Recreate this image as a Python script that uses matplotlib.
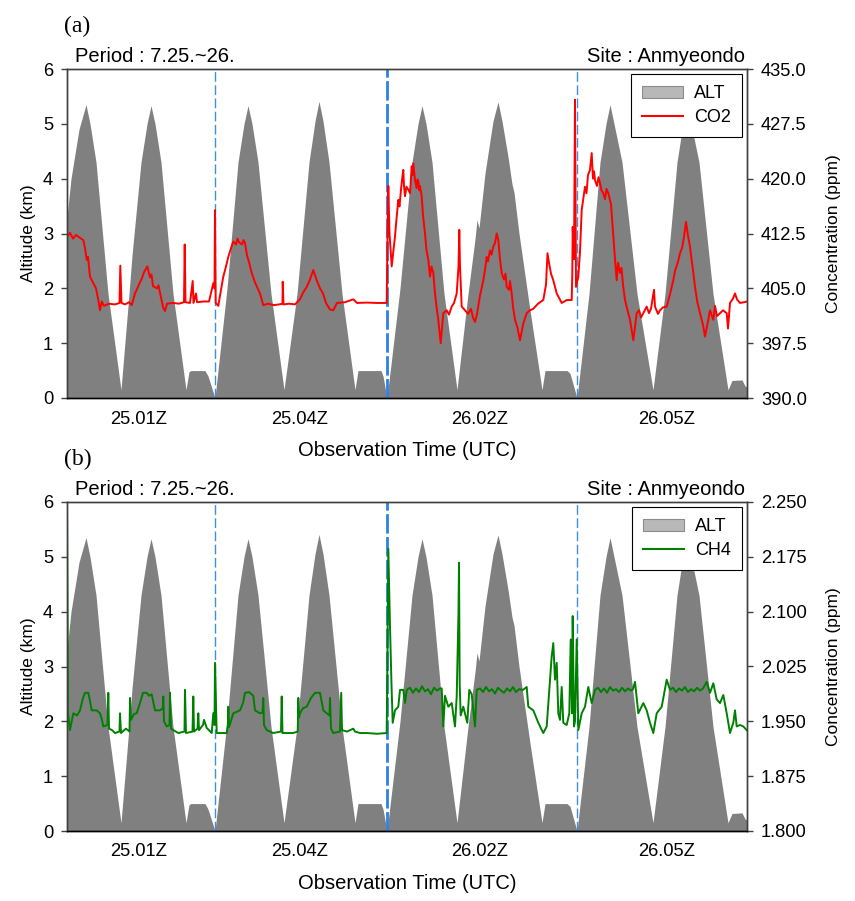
import matplotlib
matplotlib.use("Agg")
import matplotlib.pyplot as plt
from matplotlib.patches import Patch
from matplotlib.lines import Line2D

plt.rcParams["font.family"] = ["Liberation Sans", "DejaVu Sans"]
plt.rcParams["lines.scale_dashes"] = False

# elapsed time in minutes since the first sample (4 flights, 25-26 July)
alt_time = [0, 4, 12, 19, 23, 29, 41, 54,
            62, 65, 74, 80, 84, 88, 94, 106, 119, 122, 124, 138, 141, 148,
            160, 171, 177, 181, 185, 191, 204, 217, 230, 242, 248, 252, 256,
            262, 275, 288, 291, 314, 316, 320,
            333, 345, 351, 355, 359, 365, 377, 390, 401, 408, 410, 412, 418,
            426, 431, 435, 441, 445, 447, 452, 463, 475, 478, 500, 503, 510,
            522, 533, 539, 543, 547, 555, 570, 586, 598, 610, 616, 620, 624,
            632, 646, 661, 665, 675, 678, 680]
alt_km = [3.3, 4.0, 4.9, 5.35, 5.0, 4.3, 1.9, 0.15,
          1.9, 2.6, 4.3, 5.0, 5.33, 5.0, 4.3, 1.9, 0.15, 0.48, 0.5, 0.5, 0.4, 0.0,
          2.0, 4.3, 5.0, 5.33, 5.0, 4.3, 1.9, 0.15, 1.9, 4.3, 5.05, 5.41, 5.05,
          4.3, 1.9, 0.15, 0.5, 0.5, 0.4, 0.0,
          2.0, 4.3, 5.0, 5.33, 5.0, 4.3, 1.9, 0.15, 1.9, 2.9, 3.25, 3.1, 4.1,
          5.05, 5.4, 5.05, 4.4, 3.9, 3.75, 3.0, 1.6, 0.15, 0.5, 0.5, 0.45, 0.0,
          1.9, 4.3, 5.0, 5.35, 5.0, 4.3, 1.9, 0.15, 1.9, 4.3, 5.0, 5.3, 5.0,
          4.3, 1.9, 0.15, 0.32, 0.33, 0.22, 0.2]

co2_time = [0, 3, 6, 9, 13, 16.3, 18, 19.7, 21, 23,
            26.3, 29, 31.3, 33, 34.7, 37, 42, 48, 52.5, 53.3,
            54.5, 58, 62, 64.7, 68, 70, 73, 75, 77, 80.3,
            83, 84.5, 86, 90, 91.5, 93, 96.3, 98, 100, 106,
            112, 117, 117.7, 118.5, 123, 125.7, 126.5, 129, 130, 136,
            142, 146.3, 147.5, 148, 148.7, 151.3, 153, 156.3, 159, 161.3,
            164, 166.3, 169, 170.5, 172, 175, 176.5, 178, 180, 182,
            184.7, 188, 190, 193, 196.3, 201, 207, 212, 215.5, 215.7,
            216.5, 222, 228, 233, 236, 239.7, 243, 246.3, 248, 249.7,
            253, 256, 259, 263, 266.3, 270, 278, 286.3, 290, 300,
            310, 319.7,
            320.5, 321.3, 322.5, 324.7, 326.3, 328, 329.5, 331.3, 332.5, 334,
            335, 336.3, 337, 338, 339.5, 341.3, 343, 344.7, 345.5, 346.3,
            348, 349.7, 350.5, 351.5, 352.3, 353, 354.7, 356, 358, 359.5,
            361.3, 363, 364.5, 366.3, 368, 369.5, 371.3, 373.7, 375, 376.3,
            379.7, 382, 384.7, 387, 389.7, 391.5, 392.3, 393, 394.7, 398,
            401, 404, 406, 408, 410, 413, 416.3, 418, 419.7, 421,
            423, 424.5, 426.3, 428, 429.7, 431.3, 433, 434.7, 437, 438.5,
            439.7, 442, 443, 444.7, 446, 448, 450.5, 453, 456.3, 459.7,
            463, 466.3, 471, 476.3, 479, 480.5, 482, 484, 486.3, 489.7,
            494.7, 499.7, 504.7, 505.3, 505.7, 507, 507.5, 508, 509, 511.3,
            513, 514.7, 516.5, 518, 519.5, 521, 523, 524.7, 526, 527,
            528, 530, 531.5, 533, 534.5, 536.3, 538, 539.5, 541.3, 544,
            546.3, 548, 549.7, 551, 553, 554.5, 556, 558, 560.5, 563,
            566.3, 568, 569.7, 572, 574, 576.3, 579.7, 582, 584, 587,
            588, 591, 593, 596, 599.7, 603, 606.3, 608, 610, 611.5,
            613, 615, 617, 619, 621, 623, 624.5, 626, 628, 630.5,
            633, 636, 638, 641, 643, 646.3, 648, 650, 653, 656,
            659.7, 661, 663, 666, 668, 670, 673, 677, 680]
co2_ppm = [412.0, 412.6, 411.8, 412.3, 411.9, 411.6, 410.5, 408.9, 409.3, 406.6,
           405.7, 405.0, 403.4, 402.0, 403.2, 402.6, 402.9, 402.8, 403.0, 408.1,
           403.0, 402.8, 403.1, 402.7, 404.3, 404.9, 405.8, 406.4, 407.2, 408.0,
           406.5, 406.9, 405.3, 405.0, 405.4, 404.4, 402.3, 401.9, 402.9, 403.0,
           402.9, 403.1, 411.0, 403.1, 403.0, 406.0, 403.0, 404.3, 403.1, 403.2,
           403.2, 405.7, 405.0, 415.7, 403.0, 402.6, 404.0, 406.6, 408.0, 409.3,
           410.5, 411.4, 411.0, 411.8, 411.3, 411.0, 411.6, 411.2, 409.5, 408.6,
           407.1, 405.8, 405.2, 404.3, 402.7, 402.9, 402.7, 402.8, 402.9, 405.9,
           402.8, 402.9, 402.8, 403.5, 404.4, 405.2, 406.2, 407.5, 406.8, 406.1,
           405.0, 404.3, 403.0, 402.1, 402.0, 403.0, 403.1, 403.5, 403.0, 403.05,
           403.0, 403.0,
           412.0, 419.0, 412.5, 408.0, 410.0, 412.1, 414.5, 417.1, 416.2, 418.5,
           419.8, 421.2, 419.0, 417.6, 418.9, 418.5, 418.0, 421.7, 420.5, 422.1,
           419.8, 418.7, 419.9, 419.5, 418.4, 419.0, 417.6, 415.0, 412.5, 410.2,
           408.9, 406.6, 408.0, 407.1, 404.3, 402.5, 400.7, 397.5, 399.5, 401.6,
           402.0, 401.4, 402.5, 403.0, 404.3, 408.0, 413.0, 408.0, 402.5, 402.0,
           401.5, 402.2, 401.0, 400.4, 401.5, 404.0, 406.1, 407.5, 409.3, 408.7,
           410.2, 409.6, 410.7, 411.2, 412.5, 411.6, 409.0, 407.1, 406.2, 407.0,
           405.2, 404.8, 406.0, 404.3, 402.5, 400.7, 399.6, 397.9, 400.2, 401.6,
           402.0, 402.2, 402.9, 403.4, 405.5, 409.8, 408.5, 407.0, 406.1, 404.3,
           403.0, 403.4, 403.4, 407.0, 413.4, 409.0, 420.0, 430.8, 405.2, 406.6,
           410.0, 415.7, 417.5, 418.9, 418.0, 420.5, 421.2, 423.5, 420.0, 421.0,
           419.8, 419.0, 420.2, 419.4, 418.4, 418.0, 417.2, 418.6, 418.0, 416.5,
           412.1, 409.0, 406.1, 408.5, 407.1, 407.8, 405.5, 403.4, 402.0, 400.7,
           397.9, 399.8, 401.6, 402.0, 401.0, 401.6, 402.5, 401.6, 402.2, 404.8,
           402.5, 401.5, 402.0, 402.4, 402.5, 404.2, 406.1, 407.4, 408.2, 408.9,
           409.8, 410.5, 412.0, 414.1, 412.2, 410.7, 409.0, 407.5, 405.2, 403.0,
           401.6, 400.0, 398.4, 400.5, 402.0, 400.7, 402.6, 401.2, 401.6, 402.0,
           401.6, 399.5, 403.0, 403.6, 404.3, 403.5, 403.0, 403.1, 403.2]

ch4_time = [0, 0.5, 1, 3, 6.3, 10, 13, 16, 18, 21.3, 23, 24.7, 29.7, 33, 35,
            36.3, 40.5, 41.3, 42, 45, 48, 52.5, 53, 54, 59, 62.5, 63, 64, 67,
            69.7, 73, 76, 79.7, 82, 84.7, 88, 93, 95.8, 96.3, 97, 99.7, 102.5,
            103, 104, 106.3, 111.3, 117.5, 118, 119, 125.5, 126.3, 127, 130.5,
            131.3, 132, 136, 137, 139.7, 144.7, 146.3, 147.5, 148, 149.7, 153,
            159.7, 160.8, 161.3, 162, 166.3, 173, 176, 178, 182, 186.3, 188,
            193, 195.5, 196.3, 197, 199.7, 203, 206.3, 214, 214.7, 215.5, 220,
            226, 230.7, 231.3, 232, 233, 236, 239.7, 244, 248, 253, 256.3,
            259.7, 262.5, 263, 264, 266.3, 273, 274.2, 275, 280, 286.3, 288,
            293, 300, 310, 319.7, 320.5, 321.3, 322.3, 323, 324.5, 325.7, 328,
            331.3, 333, 336.3, 338, 339.7, 343, 346, 349, 352, 355, 358, 361,
            364, 367, 370, 373, 374.7, 376.3, 378, 381.3, 384.7, 388, 389.7,
            391.5, 392, 392.7, 393.7, 396.3, 400.3, 402.3, 404.7, 408, 409.7,
            413, 416, 419, 422, 425, 428, 431, 434, 437, 440, 443, 446, 449,
            452, 456, 459.7, 461.3, 466.3, 471.3, 476.3, 479.7, 483, 484.7,
            486.3, 488, 489.7, 491.3, 493, 494.7, 496.3, 499.7, 502.3, 503.7,
            505, 505.7, 507, 508, 509.7, 511.3, 514.7, 518, 521.3, 524.7, 528,
            531, 534, 537, 540, 543, 546, 549, 552, 555, 558, 561, 564, 566,
            568, 571.3, 576.3, 579.7, 583, 586.3, 589.7, 594.7, 599.7, 603,
            606, 609, 612, 615, 618, 621, 624, 627, 630, 633, 636, 639.7, 643,
            646.3, 649.7, 653, 656.3, 659.7, 663, 666.3, 668, 669.7, 673,
            676.3, 679.7]
ch4_ppm = [2.250, 2.100, 1.961, 1.938, 1.961, 1.958, 1.965, 1.982, 1.989,
           1.989, 1.978, 1.965, 1.965, 1.961, 1.952, 1.943, 1.945, 1.989,
           1.940, 1.938, 1.934, 1.936, 1.961, 1.934, 1.940, 1.936, 1.982,
           1.952, 1.960, 1.961, 1.975, 1.989, 1.989, 1.985, 1.987, 1.965,
           1.965, 1.968, 1.984, 1.950, 1.943, 1.945, 1.989, 1.940, 1.938,
           1.934, 1.936, 1.993, 1.934, 1.936, 1.984, 1.936, 1.940, 1.961,
           1.938, 1.945, 1.952, 1.941, 1.934, 1.961, 1.945, 2.030, 1.934,
           1.934, 1.934, 1.945, 1.970, 1.942, 1.961, 1.965, 1.975, 1.989,
           1.990, 1.985, 1.965, 1.961, 1.962, 1.982, 1.945, 1.938, 1.936,
           1.934, 1.936, 1.984, 1.934, 1.934, 1.934, 1.936, 1.982, 1.955,
           1.961, 1.968, 1.970, 1.982, 1.989, 1.989, 1.965, 1.961, 1.958,
           1.982, 1.940, 1.934, 1.936, 1.989, 1.938, 1.936, 1.940, 1.936,
           1.934, 1.934, 1.933, 1.934, 2.050, 2.186, 2.120, 2.080, 2.000,
           1.948, 1.965, 1.970, 1.993, 1.993, 1.975, 1.993, 1.996, 1.989,
           1.995, 1.990, 1.998, 1.991, 1.994, 1.987, 1.996, 1.992, 1.995,
           1.995, 1.943, 1.985, 1.970, 1.975, 1.943, 1.984, 2.100, 2.167,
           2.000, 1.958, 1.970, 1.948, 1.993, 1.987, 1.943, 1.993, 1.995,
           1.990, 1.997, 1.991, 1.994, 1.988, 1.996, 1.992, 1.989, 1.995,
           1.991, 1.997, 1.990, 1.994, 1.993, 1.997, 1.970, 1.965, 1.948,
           1.934, 1.943, 2.007, 2.039, 2.057, 2.007, 2.030, 1.961, 1.952,
           1.997, 1.948, 1.945, 1.961, 2.062, 1.961, 2.094, 1.943, 1.950,
           2.062, 1.938, 1.961, 1.970, 1.997, 1.975, 1.993, 1.996, 1.990,
           1.995, 1.989, 1.997, 1.992, 1.994, 1.990, 1.996, 1.991, 1.995,
           1.992, 1.994, 2.004, 1.961, 1.975, 1.965, 1.948, 1.934, 1.961,
           1.970, 2.007, 1.993, 1.996, 1.990, 1.995, 1.992, 1.997, 1.990,
           1.994, 1.991, 1.996, 1.992, 1.995, 2.004, 1.989, 2.002, 1.980,
           1.975, 1.986, 1.961, 1.934, 1.948, 1.965, 1.943, 1.945, 1.943,
           1.938]

flight_breaks = [148, 320, 510]
day_break = 320
xtick_pos = [72, 233, 413, 600]
xtick_labels = ["25.01Z", "25.04Z", "26.02Z", "26.05Z"]
alt_ticks = [0, 1, 2, 3, 4, 5, 6]
co2_ticks = [390.0, 397.5, 405.0, 412.5, 420.0, 427.5, 435.0]
ch4_ticks = [1.800, 1.875, 1.950, 2.025, 2.100, 2.175, 2.250]

W, H = 855, 901
SPINE = "#404040"


def draw_panel(fig, top_px, letter, g_time, g_val, g_name, g_color, g_ticks, fmt):
    left, right, bottom = 67, 747, top_px + 329
    ax = fig.add_axes([left / W, 1 - bottom / H, (right - left) / W, 329 / H])

    ax.fill_between(alt_time, alt_km, 0, color="#808080", lw=0)
    for b in flight_breaks:
        if b == day_break:
            ax.axvline(b, color="#2a82e4", lw=2.0, dashes=(14, 2.5))
        else:
            ax.axvline(b, color="#3d8fe0", lw=1.0, dashes=(7, 2.5))

    ax.set_xlim(0, 680)
    ax.set_ylim(0, 6)
    ax.set_yticks(alt_ticks)
    ax.set_xticks(xtick_pos)
    ax.set_xticklabels(xtick_labels)
    ax.tick_params(axis="x", length=0, pad=9, labelsize=13.2)
    ax.tick_params(axis="y", direction="out", length=4, width=1, pad=6,
                   labelsize=13.2, color=SPINE)
    ax.set_ylabel("Altitude (km)", fontsize=12.5, labelpad=5)
    ax.set_xlabel("Observation Time (UTC)", fontsize=14.5, labelpad=10)

    ax2 = ax.twinx()
    ax2.plot(g_time, g_val, color=g_color, lw=1.4)
    ax2.set_ylim(g_ticks[0], g_ticks[-1])
    ax2.set_yticks(g_ticks)
    ax2.set_yticklabels([fmt.format(v) for v in g_ticks])
    ax2.tick_params(axis="y", direction="out", length=4, width=1, pad=6,
                    labelsize=13.2, color=SPINE)
    ax2.set_ylabel("Concentration (ppm)", fontsize=12.5, labelpad=14)

    for a in (ax, ax2):
        for s in a.spines.values():
            s.set_color(SPINE)
            s.set_linewidth(1.0)
        a.spines["bottom"].set_color("black")

    handles = [Patch(facecolor="#b8b8b8", edgecolor="#8c8c8c", lw=0.8),
               Line2D([], [], color=g_color, lw=1.5)]
    leg = ax2.legend(handles, ["ALT", g_name], loc="upper right", fontsize=13,
                     fancybox=False, framealpha=1, edgecolor="black",
                     borderaxespad=0.3, handlelength=2.3, handletextpad=0.6,
                     borderpad=0.6, labelspacing=0.4)
    leg.get_frame().set_linewidth(0.8)

    fig.text(75 / W, 1 - (top_px - 7) / H, "Period : 7.25.~26.", fontsize=14.5,
             va="baseline", ha="left")
    fig.text(745 / W, 1 - (top_px - 7) / H, "Site : Anmyeondo", fontsize=14.5,
             va="baseline", ha="right")
    fig.text(64 / W, 1 - (top_px - 43) / H, letter, fontsize=17,
             family="Liberation Serif", va="center", ha="left")
    return ax, ax2


fig = plt.figure(figsize=(W / 100, H / 100), dpi=100)
draw_panel(fig, 69, "(a)", co2_time, co2_ppm, "CO2", "#ff0000", co2_ticks, "{:.1f}")
draw_panel(fig, 502, "(b)", ch4_time, ch4_ppm, "CH4", "#008000", ch4_ticks, "{:.3f}")
fig.savefig("out.png", dpi=100)
